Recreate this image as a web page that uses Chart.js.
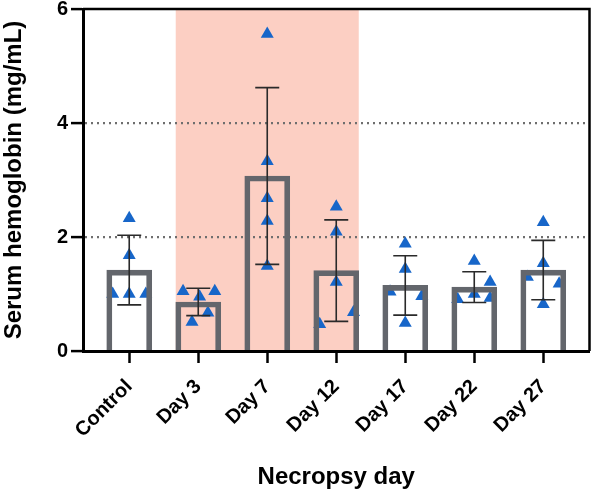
<!DOCTYPE html>
<html>
<head>
<meta charset="utf-8">
<script src="https://cdn.jsdelivr.net/npm/chart.js@4.4.1/dist/chart.umd.min.js"></script>
<style>
  body { margin: 0; background: #fff; }
  #wrap { width: 597px; height: 492px; position: relative; }
</style>
</head>
<body>
<div id="wrap"><canvas id="hb"></canvas></div>
<script>
// necropsy groups
const dayLabels = ["Control", "Day 3", "Day 7", "Day 12", "Day 17", "Day 22", "Day 27"];
const meanValues = [1.42, 0.86, 3.07, 1.41, 1.15, 1.12, 1.42];
const sdValues = [0.61, 0.24, 1.55, 0.89, 0.52, 0.27, 0.52];
// individual animals per group
const controlPts = [2.33, 1.68, 1.0, 1.0, 1.0];
const day3Pts = [1.05, 1.05, 0.95, 0.67, 0.51];
const day7Pts = [5.56, 3.33, 2.68, 2.28, 1.49];
const day12Pts = [2.53, 2.09, 1.21, 0.68, 0.47];
const day17Pts = [1.88, 1.44, 0.96, 0.49, 1.04];
const day22Pts = [1.58, 1.21, 1.0, 0.91, 0.93];
const day27Pts = [2.26, 1.54, 1.30, 1.18, 0.82];
const yTicks = [0, 2, 4, 6];

const groupPts = [controlPts, day3Pts, day7Pts, day12Pts, day17Pts, day22Pts, day27Pts];
// horizontal scatter of the dots inside each bar (in category units)
const jitter = [
  [0, 0, -0.24, 0, 0.24],
  [-0.22, 0.24, 0.02, 0.14, -0.09],
  [0, 0, 0, 0, 0],
  [0, 0, 0, 0.25, -0.24],
  [0, 0, 0.24, 0, -0.22],
  [0, 0.23, 0, -0.24, 0.23],
  [0, 0, -0.23, 0.23, 0]
];

const scatterData = [];
groupPts.forEach((vals, i) => {
  vals.forEach((v, j) => scatterData.push({ x: i + jitter[i][j], y: v }));
});

const barHalf = 22.5;
const fnt = "Liberation Sans, Arial, sans-serif";

const extras = {
  id: "extras",
  beforeDraw(chart) {
    const { ctx, chartArea, scales } = chart;
    const x0 = scales.x.getPixelForValue(1) - barHalf;
    const x1 = scales.x.getPixelForValue(3) + barHalf;
    ctx.save();
    ctx.fillStyle = "#fccfc3";
    ctx.fillRect(x0, chartArea.top, x1 - x0, chartArea.bottom - chartArea.top);
    ctx.restore();
  },
  afterDatasetDraw(chart, args) {
    if (args.index !== 0) return;
    const { ctx, scales } = chart;
    ctx.save();
    ctx.strokeStyle = "#2a2a2a";
    ctx.lineWidth = 1.6;
    meanValues.forEach((m, i) => {
      const x = scales.x.getPixelForValue(i);
      const yt = scales.y.getPixelForValue(m + sdValues[i]);
      const yb = scales.y.getPixelForValue(m - sdValues[i]);
      ctx.beginPath();
      ctx.moveTo(x, yt); ctx.lineTo(x, yb);
      ctx.moveTo(x - 12, yt); ctx.lineTo(x + 12, yt);
      ctx.moveTo(x - 12, yb); ctx.lineTo(x + 12, yb);
      ctx.stroke();
    });
    ctx.restore();
  },
  afterDraw(chart) {
    const { ctx, chartArea } = chart;
    ctx.save();
    ctx.strokeStyle = "#000";
    ctx.lineWidth = 2.5;
    ctx.beginPath();
    ctx.moveTo(chartArea.left, chartArea.top);
    ctx.lineTo(chartArea.right, chartArea.top);
    ctx.lineTo(chartArea.right, chartArea.bottom);
    ctx.stroke();
    ctx.restore();
  }
};

new Chart(document.getElementById("hb"), {
  data: {
    datasets: [
      {
        type: "bar",
        data: meanValues.map((m, i) => ({ x: i, y: m })),
        backgroundColor: "rgba(0,0,0,0)",
        borderColor: "#63666c",
        borderWidth: 5,
        borderSkipped: "start",
        barThickness: 45,
      },
      {
        type: "scatter",
        data: scatterData,
        pointStyle: "triangle",
        pointRadius: 7.5,
        backgroundColor: "#1766c9",
        borderWidth: 0,
      },
    ],
  },
  options: {
    responsive: true,
    maintainAspectRatio: false,
    animation: false,
    layout: { padding: { top: 0, right: 2 } },
    plugins: { legend: { display: false }, tooltip: { enabled: false } },
    scales: {
      x: {
        type: "linear",
        min: -0.67,
        max: 6.67,
        offset: false,
        afterBuildTicks: (axis) => {
          axis.ticks = dayLabels.map((d, i) => ({ value: i }));
        },
        afterFit: (axis) => { axis.height = 141; },
        ticks: {
          autoSkip: false,
          minRotation: 45,
          maxRotation: 45,
          color: "#000",
          padding: 12,
          font: { family: fnt, size: 20, weight: "bold" },
          callback: (v) => dayLabels[v],
        },
        grid: {
          offset: false,
          drawOnChartArea: false,
          tickLength: 12,
          tickColor: "#000",
          tickWidth: 2.5,
        },
        border: { color: "#000", width: 3 },
        title: {
          display: true,
          text: "Necropsy day",
          color: "#000",
          padding: 0,
          font: { family: fnt, size: 24, weight: "bold" },
        },
      },
      y: {
        min: 0,
        max: 6,
        afterBuildTicks: (axis) => {
          axis.ticks = yTicks.map((v) => ({ value: v }));
        },
        afterFit: (axis) => { axis.width = 83; axis.paddingTop = 9; },
        ticks: {
          color: "#000",
          padding: 3,
          font: { family: fnt, size: 20, weight: "bold" },
        },
        grid: {
          color: (c) => (c.tick && (c.tick.value === 2 || c.tick.value === 4) ? "#6e6e6e" : "rgba(0,0,0,0)"),
          lineWidth: 2.2,
          tickColor: "#000",
          tickLength: 12,
          tickWidth: 2.5,
          tickBorderDash: [],
        },
        border: { color: "#000", width: 3, dash: [2, 4] },
        title: {
          display: true,
          text: "Serum hemoglobin (mg/mL)",
          color: "#000",
          padding: 0,
          font: { family: fnt, size: 24, weight: "bold" },
        },
      },
    },
  },
  plugins: [extras],
});
</script>
</body>
</html>
